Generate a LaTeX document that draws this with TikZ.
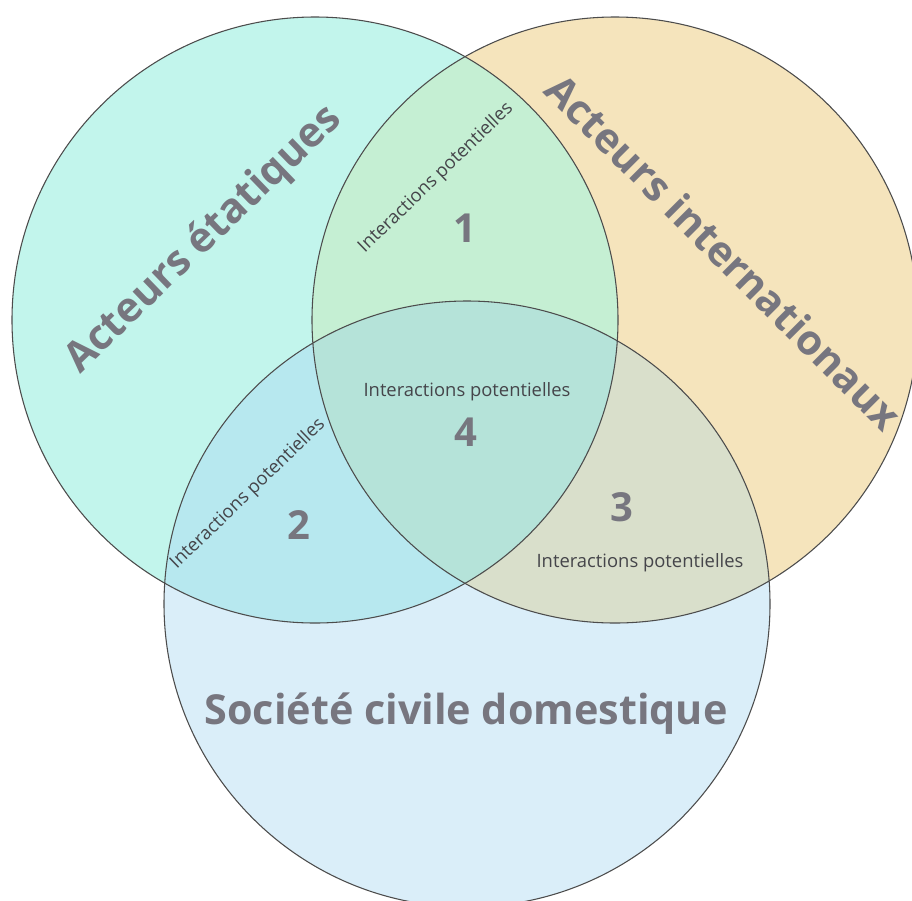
\documentclass[tikz,border=0pt]{standalone}
\usepackage{fontspec}
\setmainfont{Open Sans}
\definecolor{etatfill}{HTML}{C2F5EC}
\definecolor{interfill}{HTML}{F5E4BC}
\definecolor{civfill}{HTML}{DAEEF9}
\definecolor{unfill}{HTML}{C5EFD3}
\definecolor{deuxfill}{HTML}{B7E8EF}
\definecolor{troisfill}{HTML}{D9DFCB}
\definecolor{quatrefill}{HTML}{B5E3D9}
\definecolor{labelgray}{HTML}{77767F}
\definecolor{textgray}{HTML}{45454A}
\newcommand\circrad{303}
\tikzset{
  ring/.style={draw=black!70,line width=0.8pt},
  biglabel/.style={text=labelgray,font=\fontsize{31}{33}\selectfont\bfseries},
  numlabel/.style={text=labelgray,font=\fontsize{30}{32}\selectfont\bfseries},
  interlabel/.style={text=textgray,font=\fontsize{13.8}{15}\selectfont}
}
\begin{document}
\begin{tikzpicture}[x=0.75pt,y=-0.75pt]
\useasboundingbox (0,0) rectangle (912,900);
\fill[white] (0,0) rectangle (912,900);
\coordinate (etat) at (315,320);
\coordinate (inter) at (615,320);
\coordinate (civ) at (467,604);

\fill[etatfill] (etat) circle[radius=\circrad];
\fill[interfill] (inter) circle[radius=\circrad];
\fill[civfill] (civ) circle[radius=\circrad];
\begin{scope}
  \clip (etat) circle[radius=\circrad];
  \fill[unfill] (inter) circle[radius=\circrad];
  \fill[deuxfill] (civ) circle[radius=\circrad];
\end{scope}
\begin{scope}
  \clip (inter) circle[radius=\circrad];
  \fill[troisfill] (civ) circle[radius=\circrad];
\end{scope}
\begin{scope}
  \clip (etat) circle[radius=\circrad];
  \clip (inter) circle[radius=\circrad];
  \fill[quatrefill] (civ) circle[radius=\circrad];
\end{scope}
\draw[ring] (etat) circle[radius=\circrad];
\draw[ring] (inter) circle[radius=\circrad];
\draw[ring] (civ) circle[radius=\circrad];

\node[biglabel,rotate=44] (etatlabel) at (204,240) {Acteurs étatiques};
\node[biglabel,rotate=-45] (interlabel) at (724,252) {Acteurs internationaux};
\node[biglabel] (civlabel) at (466,714) {Société civile domestique};

\node[interlabel,rotate=44] (inter1) at (436,178) {Interactions potentielles};
\node[interlabel,rotate=44] (inter2) at (248,494) {Interactions potentielles};
\node[interlabel] (inter3) at (640,563) {Interactions potentielles};
\node[interlabel] (inter4) at (467,392) {Interactions potentielles};

\node[numlabel] (num1) at (465,228) {1};
\node[numlabel] (num2) at (299,525) {2};
\node[numlabel] (num3) at (622,507) {3};
\node[numlabel] (num4) at (466,432) {4};
\end{tikzpicture}
\end{document}
